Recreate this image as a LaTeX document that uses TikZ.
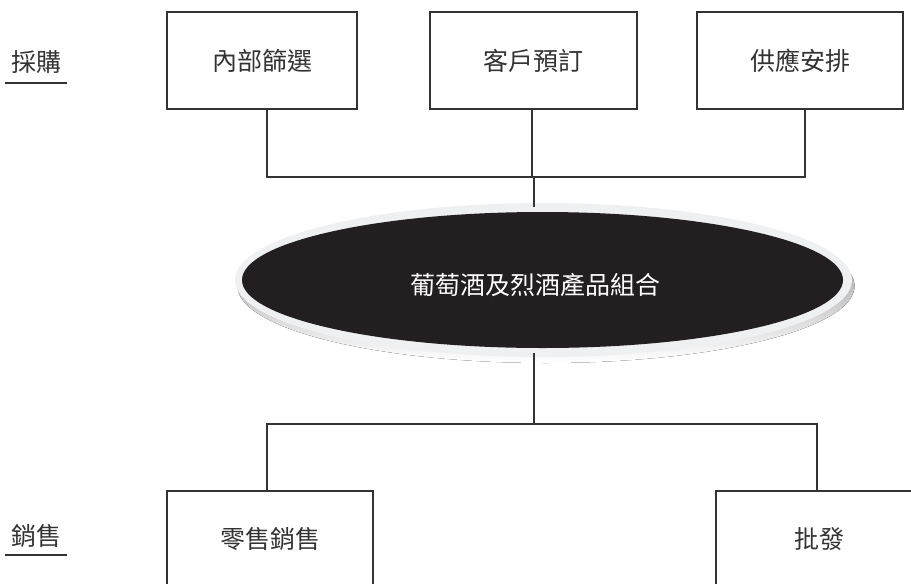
\documentclass[tikz,border=0pt]{standalone}
\usepackage{fontspec}
\newfontfamily\cjk{Noto Sans CJK TC}
\usetikzlibrary{shapes.geometric}
\definecolor{ink}{HTML}{333333}
\definecolor{darkfill}{HTML}{231F20}
\definecolor{rim}{HTML}{EFF0F2}
\definecolor{shade}{HTML}{C8C9CB}
\tikzset{
  every node/.style={font=\cjk\fontsize{25}{28}\selectfont, text=ink},
  box/.style={draw=ink, line width=1.5pt, fill=white, minimum width=190pt, minimum height=97pt, inner sep=0pt},
  lowbox/.style={box, minimum width=206pt},
  conn/.style={draw=ink, line width=1.5pt},
  sidelabel/.style={inner sep=0pt, anchor=center}
}
\begin{document}
\begin{tikzpicture}[x=1pt,y=-1pt]
\useasboundingbox (0,0) rectangle (911,584);
\clip (0,0) rectangle (911,584);
% side labels
\node[sidelabel] (buy) at (37,62) {採購};
\draw[conn] ([xshift=-32pt,yshift=-21pt]buy.center) -- ([xshift=30pt,yshift=-21pt]buy.center);
\node[sidelabel] (sell) at (37,536) {銷售};
\draw[conn] ([xshift=-32pt,yshift=-19pt]sell.center) -- ([xshift=30pt,yshift=-19pt]sell.center);
% top boxes
\node[box] (b1) at (262,60.5) {內部篩選};
\node[box, minimum width=207pt] (b2) at (533.5,60.5) {客戶預訂};
\node[box, minimum width=206pt] (b3) at (800,60.5) {供應安排};
% product ellipse
\fill[shade] (546,286) ellipse [x radius=308.5, y radius=77];
\node[ellipse, fill=rim, minimum width=617pt, minimum height=154pt, inner sep=0pt] (prod) at (543.5,280) {};
\fill[darkfill] (542.5,280) ellipse [x radius=300.5, y radius=68];
\node[text=white] (prodtext) at (535,285) {葡萄酒及烈酒產品組合};
% bottom boxes
\node[lowbox] (r1) at (270,539.5) {零售銷售};
\node[lowbox] (r2) at (819,539.5) {批發};
% connectors top
\coordinate (busL) at (267,177);
\coordinate (busR) at (805,177);
\coordinate (busM) at (532,177);
\coordinate (topjoin) at (534,177);
\draw[conn] (b1.south -| busL) -- (busL) -- (busR) -- (b3.south -| busR);
\draw[conn] (b2.south -| busM) -- (busM);
\draw[conn] (topjoin) -- ([yshift=-4pt]prod.north -| topjoin);
% connectors bottom
\coordinate (lowL) at (267,424);
\coordinate (lowR) at (817,424);
\coordinate (lowJ) at (534,424);
\draw[conn] ([yshift=4pt]prod.south -| lowJ) -- (lowJ);
\draw[conn] (r1.north -| lowL) -- (lowL) -- (lowR) -- (r2.north -| lowR);
\end{tikzpicture}
\end{document}
